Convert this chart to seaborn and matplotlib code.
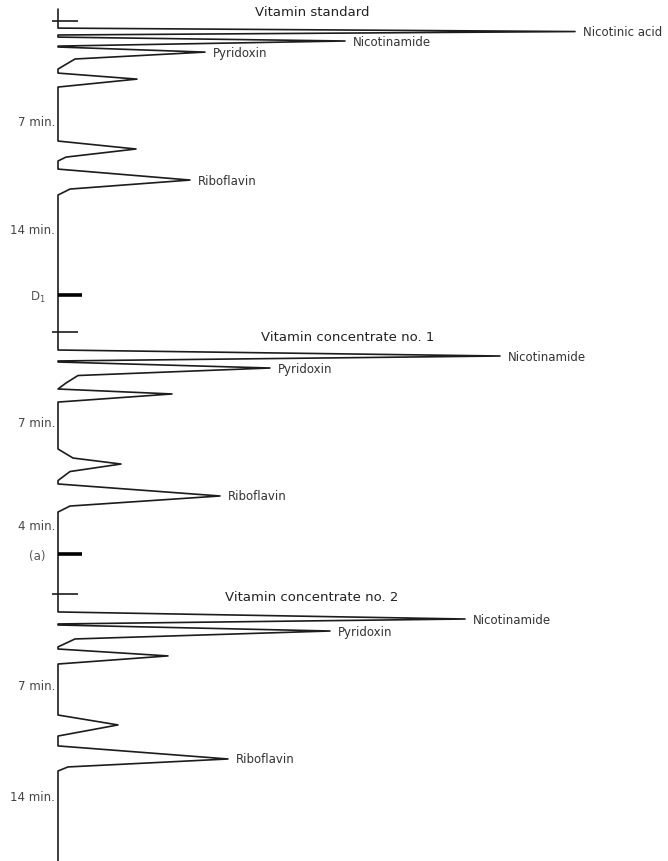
import numpy as np
import pandas as pd
import matplotlib.pyplot as plt
import seaborn as sns

sns.set_theme(style='white')
plt.rcParams['font.family'] = ['DejaVu Sans']

# Chromatogram traces: time after injection (min) and detector response (arbitrary units)
# Vitamin standard
std_time = [-0.8, 0.0, 0.47, 0.7, 0.93, 1.07, 1.33, 1.67, 1.73, 2.07, 2.53, 3.2,
            3.47, 3.87, 4.4, 8.0, 8.53, 9.07, 9.33, 9.87, 10.6, 11.2, 11.6, 18.5]
std_signal = [0, 0, 0, 517, 0, 0, 287, 0, 0, 147, 17, 0,
              0, 79, 0, 0, 78, 8, 0, 0, 132, 12, 0, 0]

# Vitamin concentrate no. 1
conc1_time = [-2.2, 1.2, 1.6, 1.93, 2.0, 2.4, 2.9, 3.4, 3.8, 4.13, 4.67,
              7.8, 8.4, 8.8, 9.3, 9.9, 10.13, 10.93, 11.6, 12.0, 17.13]
conc1_signal = [0, 0, 442, 0, 0, 212, 20, 8, 0, 114, 0,
                0, 15, 63, 12, 0, 0, 162, 12, 0, 0]

# Vitamin concentrate no. 2
conc2_time = [-0.33, 1.2, 1.67, 2.0, 2.07, 2.47, 3.0, 3.53, 3.67, 4.13, 4.67,
              8.07, 8.73, 9.47, 10.13, 11.0, 11.53, 11.8, 17.8]
conc2_signal = [0, 0, 407, 0, 0, 272, 17, 0, 0, 110, 0,
                0, 60, 0, 0, 170, 10, 0, 0]

# Peak names and apex times
std_peaks = ['Nicotinic acid', 'Nicotinamide', 'Pyridoxin', 'Riboflavin']
std_peak_times = [0.7, 1.33, 2.07, 10.6]
conc1_peaks = ['Nicotinamide', 'Pyridoxin', 'Riboflavin']
conc1_peak_times = [1.6, 2.4, 10.93]
conc2_peaks = ['Nicotinamide', 'Pyridoxin', 'Riboflavin']
conc2_peak_times = [1.67, 2.47, 11.0]

# Panel titles and time marks
titles = ['Vitamin standard', 'Vitamin concentrate no. 1', 'Vitamin concentrate no. 2']
title_times = [-0.2, 0.72, 0.6]
title_x = [254, 290, 254]
time_labels = [['7 min.', '14 min.'], ['7 min.', '4 min.'], ['7 min.', '14 min.']]
time_label_times = [[6.67, 13.87], [6.0, 12.93], [6.13, 13.47]]
end_marks = [18.27, 14.8, None]
end_mark_labels = ['D$_1$', '(a)', None]

traces = [(std_time, std_signal), (conc1_time, conc1_signal), (conc2_time, conc2_signal)]
peaks = [(std_peaks, std_peak_times), (conc1_peaks, conc1_peak_times), (conc2_peaks, conc2_peak_times)]

# Panel extent in figure rows (pixels) and time limits
panel_rows = [(0, 300), (300, 590), (590, 862)]
panel_tlim = [(-1.47, 18.53), (-2.2, 17.13), (-0.33, 17.8)]

ink = '#1c1c1c'
fig = plt.figure(figsize=(6.68, 8.62), dpi=100)
H = 862

for i in range(3):
    top, bot = panel_rows[i]
    ax = fig.add_axes([0, 1 - bot / H, 1, (bot - top) / H])
    t, s = traces[i]
    df = pd.DataFrame({'time': t, 'signal': s})
    sns.lineplot(data=df, x='signal', y='time', sort=False, estimator=None,
                 orient='y', color=ink, lw=1.2, ax=ax)
    ax.set_xlim(-58, 610)
    ax.set_ylim(panel_tlim[i][1], panel_tlim[i][0])
    ax.axis('off')

    # injection mark
    ax.hlines(0, -6, 20, color=ink, lw=1.2)
    # end of run mark
    if end_marks[i] is not None:
        ax.hlines(end_marks[i], 0, 24, color='black', lw=2.6)
        ax.text(-12, end_marks[i] + 0.1, end_mark_labels[i], ha='right', va='center',
                fontsize=8.5, color='#555555')

    # peak labels
    lookup = dict(zip(t, s))
    for name, pt in zip(*peaks[i]):
        ax.text(lookup[pt] + 8, pt, name, ha='left', va='center',
                fontsize=8.5, color='#333333', clip_on=False)

    ax.text(title_x[i], title_times[i], titles[i], ha='center', va='bottom',
            fontsize=9.5, color='#222222')
    for lab, lt in zip(time_labels[i], time_label_times[i]):
        ax.text(-3, lt, lab, ha='right', va='center', fontsize=8.5, color='#444444')

fig.savefig('out.png', dpi=100)
